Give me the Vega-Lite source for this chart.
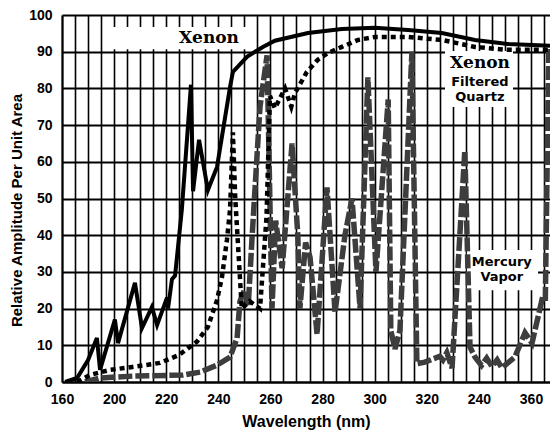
{
  "$schema": "https://vega.github.io/schema/vega-lite/v6.json",
  "width": 488,
  "height": 367,
  "autosize": {"type": "none"},
  "padding": {"left": 62, "top": 15, "right": 0, "bottom": 51},
  "background": "white",
  "config": {"view": {"stroke": null}},
  "datasets": {
    "xenon": [
      {"wl": 181.2, "amp": 0}, {"wl": 185.8, "amp": 1.1}, {"wl": 190, "amp": 6}, {"wl": 193.4, "amp": 12},
      {"wl": 194.6, "amp": 3.3}, {"wl": 200.3, "amp": 17}, {"wl": 201.5, "amp": 10.6}, {"wl": 208, "amp": 27},
      {"wl": 210.7, "amp": 14.7}, {"wl": 214.5, "amp": 20.4}, {"wl": 216.5, "amp": 15.5}, {"wl": 220.3, "amp": 23},
      {"wl": 220.7, "amp": 20}, {"wl": 222.2, "amp": 28}, {"wl": 223.4, "amp": 29}, {"wl": 226, "amp": 47},
      {"wl": 229.5, "amp": 81}, {"wl": 230.3, "amp": 52}, {"wl": 232.6, "amp": 66}, {"wl": 236, "amp": 52.3},
      {"wl": 239.5, "amp": 58.6}, {"wl": 244.5, "amp": 80.4}, {"wl": 245.6, "amp": 84.5}, {"wl": 251, "amp": 88.6},
      {"wl": 257.1, "amp": 91.3}, {"wl": 261.7, "amp": 93}, {"wl": 274.4, "amp": 95.1}, {"wl": 287.4, "amp": 96.2},
      {"wl": 300.1, "amp": 96.5}, {"wl": 312.8, "amp": 95.9}, {"wl": 325.8, "amp": 95.1}, {"wl": 338.5, "amp": 93.2},
      {"wl": 351.1, "amp": 92.1}, {"wl": 367.3, "amp": 91.6}
    ],
    "quartz": [
      {"wl": 185.8, "amp": 0}, {"wl": 190.7, "amp": 1.9}, {"wl": 198.4, "amp": 3.3}, {"wl": 207, "amp": 4.1},
      {"wl": 217.6, "amp": 5.2}, {"wl": 225, "amp": 7.4}, {"wl": 231.8, "amp": 11}, {"wl": 236, "amp": 15},
      {"wl": 239.5, "amp": 22.3}, {"wl": 241.4, "amp": 28.6}, {"wl": 243.3, "amp": 38.7}, {"wl": 244.5, "amp": 47},
      {"wl": 245.6, "amp": 68}, {"wl": 246.5, "amp": 50}, {"wl": 249, "amp": 20}, {"wl": 252, "amp": 22},
      {"wl": 256, "amp": 20}, {"wl": 258.5, "amp": 45}, {"wl": 259.8, "amp": 78}, {"wl": 261.7, "amp": 74.6},
      {"wl": 265.6, "amp": 80}, {"wl": 268, "amp": 75}, {"wl": 269.4, "amp": 78.7}, {"wl": 274, "amp": 84.5},
      {"wl": 278, "amp": 87.7}, {"wl": 282, "amp": 89.6}, {"wl": 287.4, "amp": 91.3}, {"wl": 293.6, "amp": 93.2},
      {"wl": 300, "amp": 94}, {"wl": 312.8, "amp": 94}, {"wl": 325.8, "amp": 93.2}, {"wl": 338.5, "amp": 91.3},
      {"wl": 351.1, "amp": 90.5}, {"wl": 367.3, "amp": 90.5}
    ],
    "mercury": [
      {"wl": 188.8, "amp": 0}, {"wl": 194.6, "amp": 1.1}, {"wl": 207, "amp": 1.6}, {"wl": 226.4, "amp": 1.9},
      {"wl": 233, "amp": 2.7}, {"wl": 239.5, "amp": 4.6}, {"wl": 244.5, "amp": 6.8}, {"wl": 247.2, "amp": 12},
      {"wl": 248.3, "amp": 22}, {"wl": 250, "amp": 25}, {"wl": 251.5, "amp": 21}, {"wl": 253, "amp": 40},
      {"wl": 256, "amp": 75}, {"wl": 258.7, "amp": 89}, {"wl": 260.6, "amp": 20}, {"wl": 262, "amp": 44},
      {"wl": 264.5, "amp": 31}, {"wl": 268.3, "amp": 65}, {"wl": 270.5, "amp": 40}, {"wl": 271.3, "amp": 20},
      {"wl": 273.5, "amp": 38}, {"wl": 275.2, "amp": 34}, {"wl": 277.9, "amp": 13}, {"wl": 281.7, "amp": 53},
      {"wl": 284.8, "amp": 19}, {"wl": 288.6, "amp": 40}, {"wl": 291.3, "amp": 50}, {"wl": 294.4, "amp": 20},
      {"wl": 297.4, "amp": 83}, {"wl": 300.5, "amp": 30}, {"wl": 305.2, "amp": 77}, {"wl": 306.2, "amp": 14},
      {"wl": 307.8, "amp": 9}, {"wl": 309.7, "amp": 14}, {"wl": 314.3, "amp": 90}, {"wl": 316.2, "amp": 5},
      {"wl": 319.3, "amp": 5.4}, {"wl": 325, "amp": 7}, {"wl": 326.2, "amp": 6}, {"wl": 327.7, "amp": 8},
      {"wl": 329.7, "amp": 3.8}, {"wl": 334.6, "amp": 63}, {"wl": 336.6, "amp": 9.5}, {"wl": 338.5, "amp": 6.8},
      {"wl": 341, "amp": 4.5}, {"wl": 343, "amp": 6.5}, {"wl": 345, "amp": 4.2}, {"wl": 347, "amp": 6},
      {"wl": 348.8, "amp": 3.8}, {"wl": 351.1, "amp": 5.2}, {"wl": 353.8, "amp": 6.8}, {"wl": 357.7, "amp": 13.4},
      {"wl": 360.4, "amp": 10.6}, {"wl": 364.2, "amp": 22.3}, {"wl": 365.5, "amp": 22}, {"wl": 366.8, "amp": 90},
      {"wl": 368, "amp": 90}
    ],
    "boxes": [
      {"wl": 198.4, "wl2": 252.1, "amp": 90.7, "amp2": 96.7},
      {"wl": 327, "wl2": 353.1, "amp": 74.9, "amp2": 90.2},
      {"wl": 335.4, "wl2": 362.7, "amp": 25, "amp2": 36}
    ],
    "serifLabels": [
      {"wl": 236.4, "amp": 93.7, "label": "Xenon"},
      {"wl": 340.4, "amp": 86.9, "label": "Xenon"}
    ],
    "sansLabels": [
      {"wl": 340.4, "amp": 81.7, "label": "Filtered"},
      {"wl": 340.4, "amp": 77.7, "label": "Quartz"},
      {"wl": 348.8, "amp": 32.7, "label": "Mercury"},
      {"wl": 348.8, "amp": 28.6, "label": "Vapor"}
    ]
  },
  "encoding": {
    "x": {"field": "wl", "type": "quantitative",
      "scale": {"domain": [180, 367.3], "nice": false, "zero": false},
      "axis": {
        "values": [180,185,190,195,200,205,210,215,220,225,230,235,240,245,250,255,260,265,270,275,280,285,290,295,300,305,310,315,320,325,330,335,340,345,350,355,360,365],
        "labelExpr": "datum.value == 180 ? '160' : datum.value == 340 ? '240' : (datum.value % 20 == 0 ? datum.label : '')",
        "grid": true, "gridColor": "#000000", "gridWidth": 1.6, "gridOpacity": 1,
        "ticks": false, "domain": true, "domainColor": "#000000", "domainWidth": 2,
        "labelFont": "Liberation Sans", "labelFontWeight": "bold", "labelFontSize": 14, "labelColor": "#000000",
        "labelPadding": 10, "labelFlush": false, "labelOverlap": false,
        "title": "Wavelength (nm)", "titleFont": "Liberation Sans", "titleFontWeight": "bold", "titleFontSize": 16,
        "titleColor": "#000000", "titlePadding": 7
      }
    },
    "y": {"field": "amp", "type": "quantitative",
      "scale": {"domain": [0, 100], "nice": false},
      "axis": {
        "values": [0,10,20,30,40,50,60,70,80,90,100],
        "grid": true, "gridColor": "#000000", "gridWidth": 2, "gridOpacity": 1,
        "ticks": false, "domain": true, "domainColor": "#000000", "domainWidth": 2,
        "labelFont": "Liberation Sans", "labelFontWeight": "bold", "labelFontSize": 14, "labelColor": "#000000",
        "labelPadding": 10,
        "title": "Relative Amplitude Per Unit Area", "titleFont": "Liberation Sans", "titleFontWeight": "bold",
        "titleFontSize": 15, "titleColor": "#000000", "titleX": -38, "titleY": 195
      }
    }
  },
  "layer": [
    {
      "data": {"name": "boxes"},
      "mark": {"type": "rect", "color": "white", "clip": true},
      "encoding": {
        "x2": {"field": "wl2"},
        "y2": {"field": "amp2"}
      }
    },
    {
      "data": {"name": "mercury"},
      "mark": {"type": "line", "color": "#3d3d3d", "strokeWidth": 5.5, "strokeDash": [14, 3], "clip": true},
      "encoding": {}
    },
    {
      "data": {"name": "quartz"},
      "mark": {"type": "line", "color": "#000000", "strokeWidth": 4.5, "strokeDash": [5, 4], "clip": true},
      "encoding": {}
    },
    {
      "data": {"name": "xenon"},
      "mark": {"type": "line", "color": "#000000", "strokeWidth": 4, "clip": true},
      "encoding": {}
    },
    {
      "data": {"name": "serifLabels"},
      "mark": {"type": "text", "font": "DejaVu Serif", "fontWeight": "bold", "fontSize": 17, "color": "#000000", "align": "center", "baseline": "middle"},
      "encoding": {"text": {"field": "label"}}
    },
    {
      "data": {"name": "sansLabels"},
      "mark": {"type": "text", "font": "DejaVu Sans", "fontWeight": "bold", "fontSize": 13, "color": "#000000", "align": "center", "baseline": "middle"},
      "encoding": {"text": {"field": "label"}}
    }
  ]
}
